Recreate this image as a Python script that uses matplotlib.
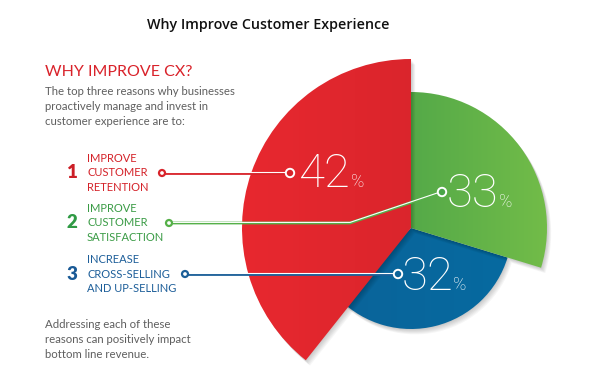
import matplotlib
matplotlib.use('Agg')
import matplotlib.pyplot as plt
from matplotlib.patches import Wedge, Circle
from matplotlib.colors import LinearSegmentedColormap
import numpy as np

# data
valores = [42, 33, 32]
rotulos = ['IMPROVE\nCUSTOMER\nRETENTION',
           'IMPROVE\nCUSTOMER\nSATISFACTION',
           'INCREASE\nCROSS-SELLING\nAND UP-SELLING']
numeros = ['1', '2', '3']

titulo = 'Why Improve Customer Experience'
subtitulo = 'WHY IMPROVE CX?'
intro = 'The top three reasons why businesses\nproactively manage and invest in\ncustomer experience are to:'
rodape = 'Addressing each of these\nreasons can positively impact\nbottom line revenue.'

W, H = 602, 382
fig = plt.figure(figsize=(W / 100, H / 100), dpi=100)
ax = fig.add_axes([0, 0, 1, 1])
ax.set_xlim(0, W)
ax.set_ylim(0, H)
ax.axis('off')

def Y(y):
    return H - y

fonte = 'Lato'
fina = 'Roboto'
vermelho = '#d8232a'
verde = '#3c9c44'
azul = '#1b5f98'
cinza = '#5f5f5f'

centro = (411, Y(228))
# geometry of each slice: start, end angle, radius
fatias = [(90, 231.5, 169), (-17, 90, 136), (-135, -17, 101)]
grad = [('#e8282f', '#cd2229'), ('#37974a', '#72bc48'), ('#0b6399', '#066aa0')]

def sombra(t1, t2, r):
    for i in range(1, 7):
        w = Wedge((centro[0] + i * 0.7, centro[1] - i * 0.9), r, t1, t2,
                  facecolor='#000000', edgecolor='none', alpha=0.035)
        ax.add_patch(w)

def fatia(t1, t2, r, c1, c2):
    w = Wedge(centro, r, t1, t2, facecolor='none', edgecolor='none')
    ax.add_patch(w)
    cm = LinearSegmentedColormap.from_list('g', [c1, c2])
    xs = np.linspace(0, 1, 256).reshape(1, -1)
    im = ax.imshow(xs, cmap=cm, extent=[centro[0] - r, centro[0] + r, centro[1] - r, centro[1] + r],
                   aspect='auto', interpolation='bilinear', zorder=w.get_zorder())
    im.set_clip_path(w)

# desenha azul, verde, vermelho (ordem de sobreposicao)
for k in [2, 1, 0]:
    t1, t2, r = fatias[k]
    sombra(t1, t2, r)
    fatia(t1, t2, r, grad[k][0], grad[k][1])
ax.set_xlim(0, W)
ax.set_ylim(0, H)

# linhas de ligacao
def linha(xs, ys, cor):
    ys = [Y(v) for v in ys]
    ax.plot(xs, ys, color=cor, lw=2.0, solid_capstyle='butt', zorder=5)
    ax.plot(xs, [v + 0.6 for v in ys], color='white', lw=0.8, solid_capstyle='butt', zorder=6)

linha([162, 290], [173, 173], vermelho)
linha([169, 350, 442], [223, 223, 192], '#55b048')
linha([185, 398], [274, 274], azul)

for (x, y, c) in [(162, 173, vermelho), (169, 223, '#55b048'), (185, 274, azul)]:
    ax.add_patch(Circle((x, Y(y)), 3, facecolor='white', edgecolor=c, lw=1.6, zorder=7))
for (x, y, c) in [(290, 173, '#d8232a'), (442, 192, '#4aa548'), (398, 274, '#0b6399')]:
    ax.add_patch(Circle((x, Y(y)), 4.2, facecolor=c, edgecolor='white', lw=1.4, zorder=7))

# percentuais
pos_pct = [(350, 187), (498, 207), (453, 290)]
for v, (x, y) in zip(valores, pos_pct):
    ax.text(x, Y(y), str(v), color='white', fontsize=34, family=fina, fontweight='light',
            ha='right', va='baseline', zorder=8)
    ax.text(x + 0.5, Y(y), '%', color='white', fontsize=13, family=fina, fontweight='light',
            ha='left', va='baseline', zorder=8)

# textos
ax.text(268, Y(25), titulo, fontsize=10.3, family='Open Sans', fontweight='semibold',
        color='#111111', ha='center', va='center')
ax.text(45, Y(72), subtitulo, fontsize=11.5, family=fonte, fontweight='normal',
        color='#d9222a', ha='left', va='center')
ax.text(45, Y(86), intro, fontsize=8.2, family=fonte, color=cinza, ha='left', va='top',
        linespacing=1.45)
ax.text(45, Y(319), rodape, fontsize=8.2, family=fonte, color=cinza, ha='left', va='top',
        linespacing=1.45)

cores_txt = ['#d42229', '#3a9b45', '#1d5e99']
cores_num = ['#cc1f27', '#2f9a44', '#1a5a96']
ys_num = [173, 223, 274]
for n, rt, y, cn, ct in zip(numeros, rotulos, ys_num, cores_num, cores_txt):
    ax.text(72, Y(y), n, fontsize=13.5, family=fonte, fontweight='heavy', color=cn,
            ha='center', va='center')
    ax.text(87, Y(y), rt, fontsize=8, family=fonte, color=ct, ha='left', va='center',
            linespacing=1.35)

fig.savefig('out.png', dpi=100)
